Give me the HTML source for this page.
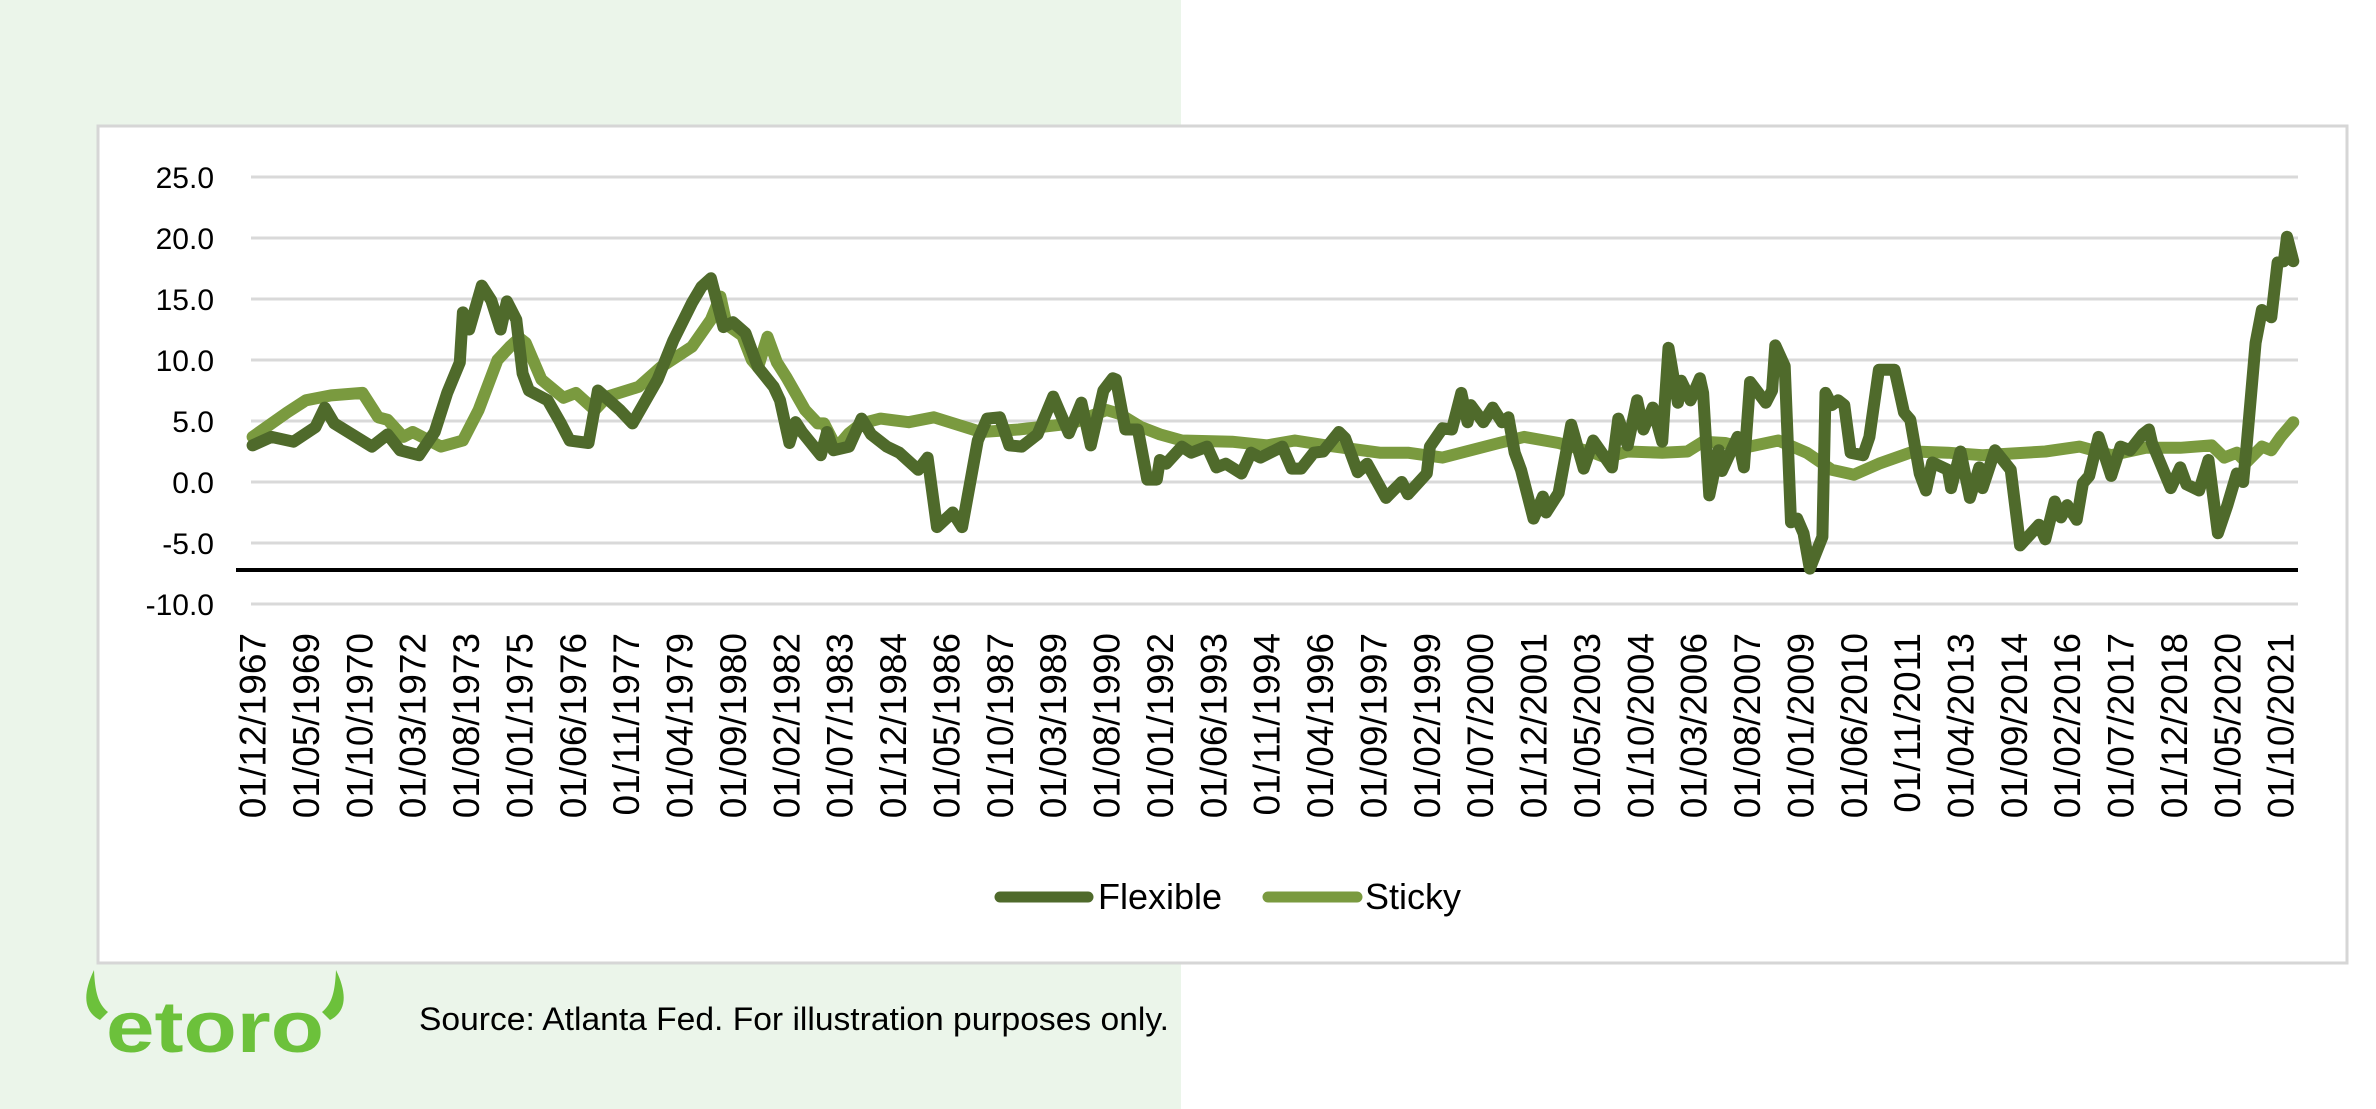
<!DOCTYPE html>
<html><head><meta charset="utf-8">
<style>
html,body{margin:0;padding:0;background:#fff;}
body{width:2376px;height:1109px;overflow:hidden;position:relative;font-family:"Liberation Sans",sans-serif;}
svg{position:absolute;left:0;top:0;}
</style></head>
<body>
<svg id="chart" width="2376" height="1109" viewBox="0 0 2376 1109">
  <rect x="0" y="0" width="1181" height="1109" fill="#ebf5ea"/>
  <rect x="98" y="126" width="2249" height="837" fill="#fff" stroke="#d6d6d6" stroke-width="3"/>
  <g id="grid"></g>
  <g id="ylabels"></g>
  <line x1="236" y1="570" x2="2298" y2="570" stroke="#000" stroke-width="4"/>
  <g id="xlabels"></g>
  <g id="series"></g>
  <g>
    <line x1="1000" y1="897" x2="1088" y2="897" stroke="#4f6a2b" stroke-width="11" stroke-linecap="round"/>
    <text x="1098" y="909" font-size="36" fill="#000">Flexible</text>
    <line x1="1268" y1="897" x2="1357" y2="897" stroke="#7a9a3f" stroke-width="11" stroke-linecap="round"/>
    <text x="1365" y="909" font-size="36" fill="#000">Sticky</text>
  </g>
  <g>
    <path d="M94 970 C82 995 84 1012 100 1020 L108 1012 C98 1004 95 992 94 970 Z" fill="#6cc13b"/>
    <path d="M336 970 C348 995 346 1012 330 1020 L322 1012 C332 1004 335 992 336 970 Z" fill="#6cc13b"/>
    <text x="106" y="1052" font-size="72" font-weight="bold" fill="#6cc13b" textLength="218" lengthAdjust="spacingAndGlyphs">etoro</text>
  </g>
  <text x="419" y="1030" font-size="32" fill="#000" textLength="750" lengthAdjust="spacingAndGlyphs">Source: Atlanta Fed. For illustration purposes only.</text>
</svg>
<script>
const yTicks = [25, 20, 15, 10, 5, 0, -5, -10];
const xTickLabels = ["01/12/1967","01/05/1969","01/10/1970","01/03/1972","01/08/1973","01/01/1975","01/06/1976","01/11/1977","01/04/1979","01/09/1980","01/02/1982","01/07/1983","01/12/1984","01/05/1986","01/10/1987","01/03/1989","01/08/1990","01/01/1992","01/06/1993","01/11/1994","01/04/1996","01/09/1997","01/02/1999","01/07/2000","01/12/2001","01/05/2003","01/10/2004","01/03/2006","01/08/2007","01/01/2009","01/06/2010","01/11/2011","01/04/2013","01/09/2014","01/02/2016","01/07/2017","01/12/2018","01/05/2020","01/10/2021"];
const xTickMonths = [0,17,34,51,68,85,102,119,136,153,170,187,204,221,238,255,272,289,306,323,340,357,374,391,408,425,442,459,476,493,510,527,544,561,578,595,612,629,646];
const flexMonths = [0,6,13,20,23,26,38,43,47,53,58,62,66,67,69,73,76,79,81,84,86,88,94,98,101,107,110,117,121,129,134,140,143,146,150,153,157,161,166,168,171,173,175,181,183,185,190,194,197,202,206,212,215,218,223,226,231,234,238,241,245,250,255,260,264,267,271,274,275,278,282,285,288,289,291,296,299,304,307,310,315,318,321,328,331,334,338,341,346,348,352,355,361,366,368,374,375,379,382,385,387,388,392,395,398,400,402,404,408,411,412,416,420,424,427,433,435,438,441,443,446,449,451,454,455,458,461,462,464,467,468,473,475,477,482,484,485,488,490,492,494,496,500,501,503,505,507,509,513,515,518,523,526,528,531,533,535,540,541,544,547,550,551,555,560,563,569,571,574,576,578,581,583,585,588,592,595,598,602,604,605,611,614,616,620,623,626,629,632,634,635,638,640,643,645,647,648,650];
const flexValues = [3.0,3.7,3.3,4.5,6.1,4.8,2.9,3.9,2.6,2.2,4.1,7.3,9.8,13.9,12.5,16.1,14.9,12.5,14.8,13.3,8.9,7.5,6.7,4.9,3.4,3.2,7.5,5.9,4.8,8.4,11.6,14.7,16.0,16.7,12.7,13.1,12.2,9.4,7.8,6.7,3.2,4.9,4.1,2.2,4.1,2.6,2.9,5.2,3.9,2.9,2.4,1.0,2.0,-3.7,-2.5,-3.7,3.4,5.2,5.3,3.0,2.9,3.9,7.0,4.0,6.5,3.0,7.5,8.5,8.4,4.3,4.3,0.2,0.2,1.8,1.5,2.9,2.4,2.9,1.2,1.5,0.7,2.4,2.0,2.9,1.1,1.1,2.4,2.5,4.1,3.6,0.8,1.5,-1.3,0.0,-1.0,0.7,2.9,4.4,4.3,7.3,4.9,6.3,4.9,6.1,4.9,5.3,2.4,1.0,-3.0,-1.2,-2.5,-0.9,4.7,1.1,3.4,1.2,5.2,3.0,6.7,4.3,6.1,3.3,11.0,6.5,8.3,6.7,8.5,7.3,-1.1,2.6,0.9,3.7,1.2,8.2,6.5,7.5,11.2,9.5,-3.3,-3.0,-4.2,-7.1,-4.5,7.3,6.3,6.7,6.3,2.4,2.2,3.7,9.2,9.2,5.7,5.1,0.7,-0.7,1.6,1.0,-0.5,2.5,-1.3,1.2,-0.5,2.6,1.0,-5.2,-3.5,-4.7,-1.6,-2.9,-1.9,-3.1,-0.1,0.5,3.7,0.5,2.9,2.6,3.9,4.3,3.2,-0.5,1.2,-0.2,-0.7,1.8,-4.2,-1.9,0.7,0.0,2.6,11.4,14.1,13.5,18.0,18.1,20.1,18.1];
const stickyMonths = [0,11,17,25,35,40,43,48,51,60,67,72,78,82,85,87,92,99,103,109,113,123,130,140,146,149,151,156,159,161,164,167,170,176,180,182,186,190,194,200,209,217,232,244,261,272,276,283,289,296,312,323,332,342,359,368,379,397,405,416,427,431,438,449,457,462,469,475,486,495,503,510,518,529,540,551,571,582,592,603,614,624,628,632,635,640,643,646,650];
const stickyValues = [3.7,5.7,6.7,7.1,7.3,5.3,5.1,3.7,4.1,2.9,3.4,5.9,10.0,11.1,11.8,11.4,8.4,6.9,7.3,5.9,7.0,7.8,9.4,11.1,13.3,15.2,12.9,12.0,10.0,9.4,11.9,9.8,8.6,5.9,4.8,4.8,2.8,4.0,4.8,5.2,4.9,5.3,4.1,4.3,4.8,5.9,5.6,4.5,3.9,3.4,3.3,3.0,3.4,3.0,2.4,2.4,2.0,3.2,3.7,3.2,2.4,2.0,2.5,2.4,2.5,3.3,3.2,2.8,3.4,2.4,1.0,0.6,1.5,2.5,2.4,2.2,2.5,2.9,2.2,2.8,2.8,3.0,2.0,2.4,1.6,2.9,2.6,3.7,4.9];

const NS = "http://www.w3.org/2000/svg";
const X0 = 251, X1 = 2298, NMONTHS = 652;
const Y_TOP = 177, PX_PER_UNIT = 12.2;
function xScale(m){ return X0 + (m + 0.5) * (X1 - X0) / NMONTHS; }
function yScale(v){ return Y_TOP + (25 - v) * PX_PER_UNIT; }
function mk(tag, attrs){ const e = document.createElementNS(NS, tag); for (const k in attrs) e.setAttribute(k, attrs[k]); return e; }

const grid = document.getElementById('grid');
const ylab = document.getElementById('ylabels');
yTicks.forEach(function(t){
  const gl = mk('line', {x1: X0, x2: X1, y1: yScale(t), y2: yScale(t), stroke: '#d9d9d9', 'stroke-width': 3});
  
  
  grid.appendChild(gl);
  const tx = mk('text', {x: 214, y: yScale(t) + 11, 'font-size': 30, 'text-anchor': 'end', fill: '#000'});
  tx.textContent = t.toFixed(1);
  
  
  ylab.appendChild(tx);
});

const xlab = document.getElementById('xlabels');
xTickLabels.forEach(function(lbl, i){
  const cx = xScale(xTickMonths[i]);
  const tx = mk('text', {x: 0, y: 0, 'font-size': 37, 'text-anchor': 'end', fill: '#000', transform: 'translate(' + (cx + 13) + ',633) rotate(-90)'});
  tx.textContent = lbl;
  
  
  xlab.appendChild(tx);
});

const series = document.getElementById('series');
function drawLine(months, values, color, name){
  let d = '';
  months.forEach(function(m, i){ d += (i ? 'L' : 'M') + xScale(m).toFixed(1) + ' ' + yScale(values[i]).toFixed(1); });
  const p = mk('path', {d: d, fill: 'none', stroke: color, 'stroke-width': 12, 'stroke-linejoin': 'round', 'stroke-linecap': 'round'});
  
  
  series.appendChild(p);
}
drawLine(stickyMonths, stickyValues, '#7a9a3f', 'sticky-line');
drawLine(flexMonths, flexValues, '#4f6a2b', 'flexible-line');
</script>
</body></html>
